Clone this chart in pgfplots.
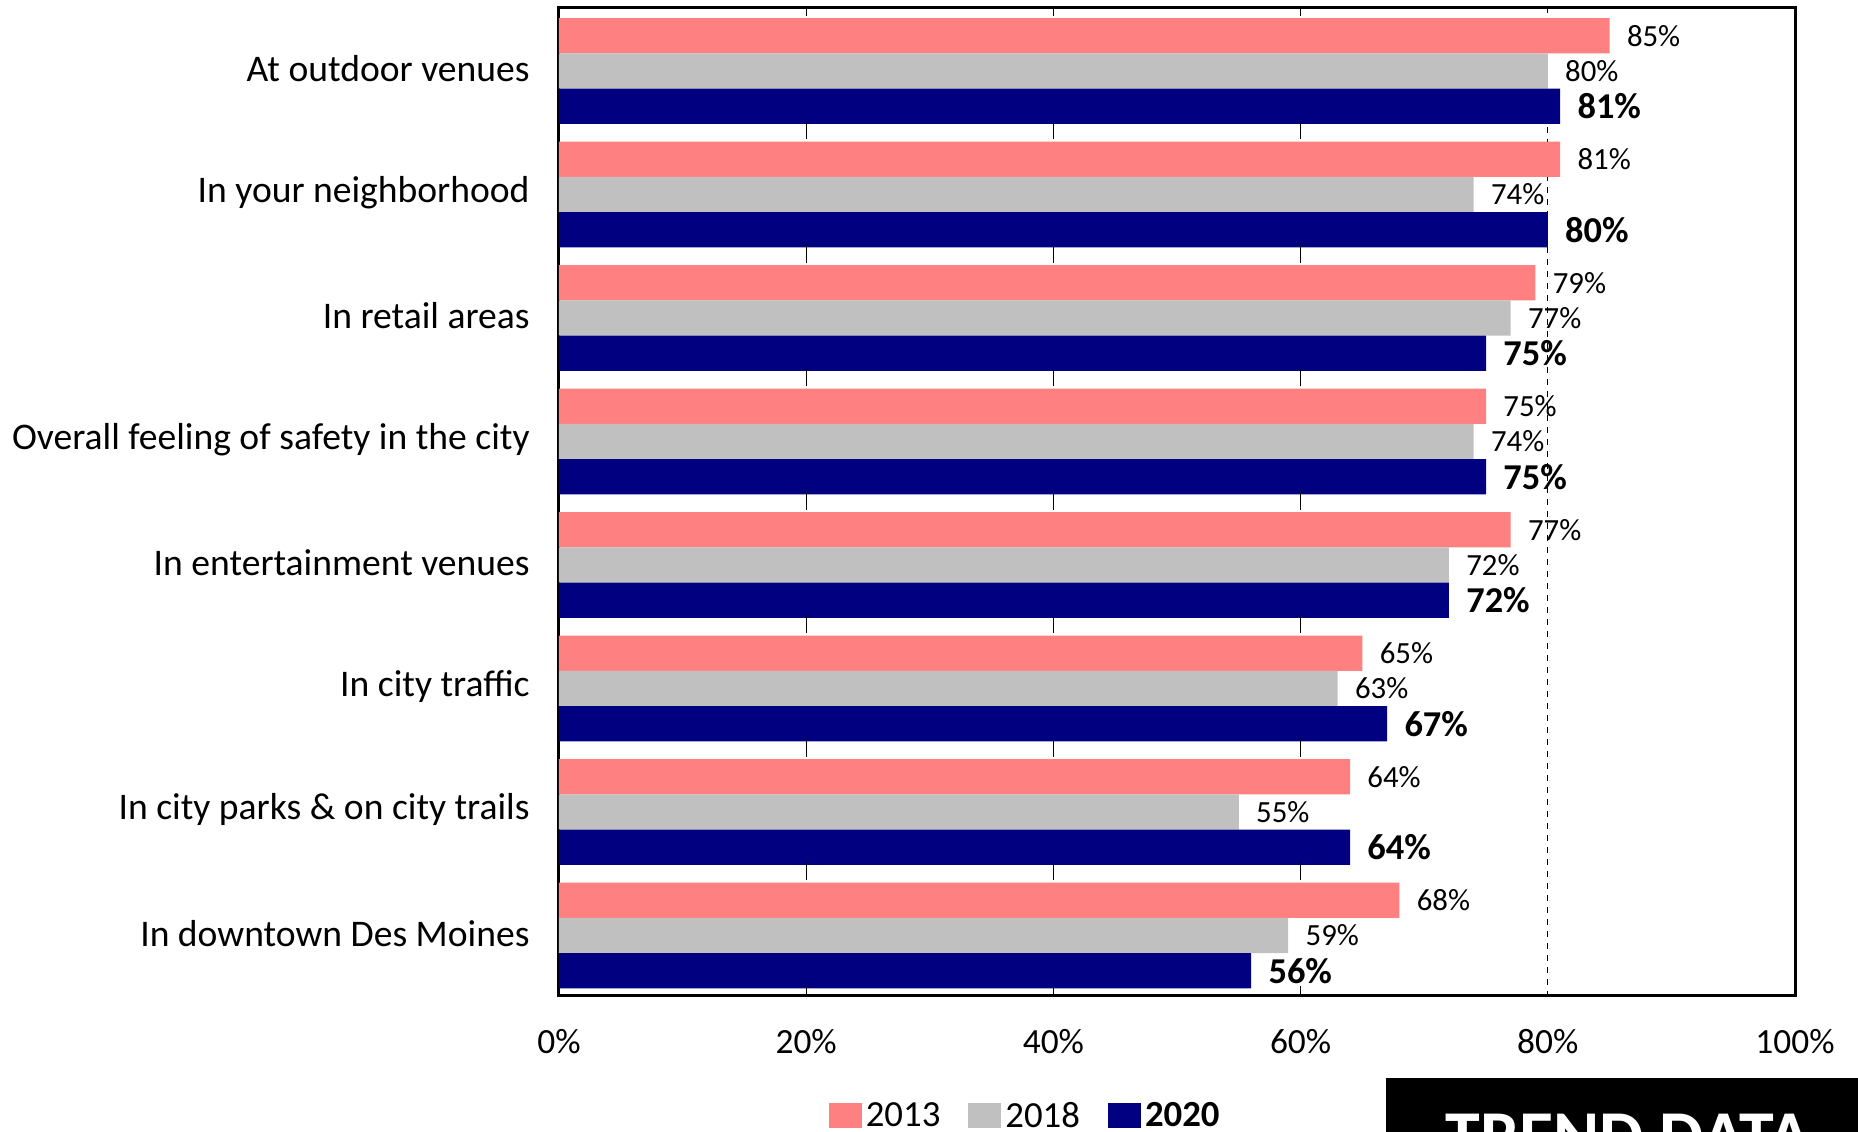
\documentclass[border=0pt]{standalone}
\usepackage{fontspec}
\setmainfont{Carlito}
\usepackage{pgfplots}
\pgfplotsset{compat=1.18}

\definecolor{c13}{HTML}{FF8080}
\definecolor{c18}{HTML}{C0C0C0}
\definecolor{c20}{HTML}{000080}

\begin{document}
\begin{tikzpicture}
\useasboundingbox (-279.5pt,-68pt) rectangle (649.5pt,497.5pt);
\begin{axis}[
  at={(0,0)}, anchor=south west,
  width=618pt, height=494pt, scale only axis,
  xbar, bar width=0.286,
  xmin=0, xmax=100, ymin=-0.5, ymax=7.5, y dir=reverse,
  ytick={0,...,7},
  yticklabels={At outdoor venues, In your neighborhood, In retail areas,
    Overall feeling of safety in the city, In entertainment venues,
    In city traffic, In city parks \& on city trails, In downtown Des Moines},
  xtick={0,20,...,100},
  xticklabels={0\%,20\%,40\%,60\%,80\%,100\%},
  major tick length=0pt,
  axis line style={line width=1.5pt},
  yticklabel style={font=\fontsize{18.8}{20}\selectfont, inner sep=0pt, xshift=-14.5pt},
  xticklabel style={font=\fontsize{17.7}{20}\selectfont, inner sep=0pt, yshift=-17pt},
  point meta=x,
  nodes near coords={\pgfmathprintnumber[assume math mode=true]{\pgfplotspointmeta}\%},
  legend style={at={(0.378,-0.1225)}, anchor=center, draw=none, fill=none,
    legend columns=3, font=\fontsize{18.4}{20}\selectfont, inner sep=0pt,
    /tikz/every even column/.append style={column sep=12pt}},
  legend image code/.code={\fill[#1] (0pt,-6pt) rectangle (16.5pt,6.5pt);},
]
% dashed reference line at 80%, behind the bars
\draw[black, dashed, line width=0.6pt] (axis cs:80,-0.5) -- (axis cs:80,7.5);
% 2013
\addplot[fill=c13, draw=none, bar shift=-0.268,
  every node near coord/.append style={font=\fontsize{15.4}{18}\selectfont, anchor=west, inner sep=0pt, xshift=8.5pt, text=black}]
  coordinates {(85,0) (81,1) (79,2) (75,3) (77,4) (65,5) (64,6) (68,7)};
% 2018
\addplot[fill=c18, draw=none, bar shift=0.018,
  every node near coord/.append style={font=\fontsize{15.4}{18}\selectfont, anchor=west, inner sep=0pt, xshift=8.5pt, text=black}]
  coordinates {(80,0) (74,1) (77,2) (74,3) (72,4) (63,5) (55,6) (59,7)};
% 2020
\addplot[fill=c20, draw=none, bar shift=0.304,
  every node near coord/.append style={font=\bfseries\fontsize{18.2}{20}\selectfont, anchor=west, inner sep=0pt, xshift=8.5pt, text=black}]
  coordinates {(81,0) (80,1) (75,2) (75,3) (72,4) (67,5) (64,6) (56,7)};
\legend{2013,2018,\textbf{2020}}
% short marks on the category boundaries
\pgfplotsinvokeforeach{-0.5,0.5,...,7.5}{
  \draw[line width=0.6pt] (axis cs:20,#1) ++(0pt,-4.3pt) -- ++(0pt,8.6pt);
  \draw[line width=0.6pt] (axis cs:40,#1) ++(0pt,-4.3pt) -- ++(0pt,8.6pt);
  \draw[line width=0.6pt] (axis cs:60,#1) ++(0pt,-4.3pt) -- ++(0pt,8.6pt);
}
\end{axis}
\fill[black] (413.5pt,-41.5pt) rectangle (700pt,-120pt);
\node[anchor=base, text=white, font=\bfseries\fontsize{35}{40}\selectfont, inner sep=0pt] at (534.5pt,-82pt) {TREND DATA};
\end{tikzpicture}
\end{document}
